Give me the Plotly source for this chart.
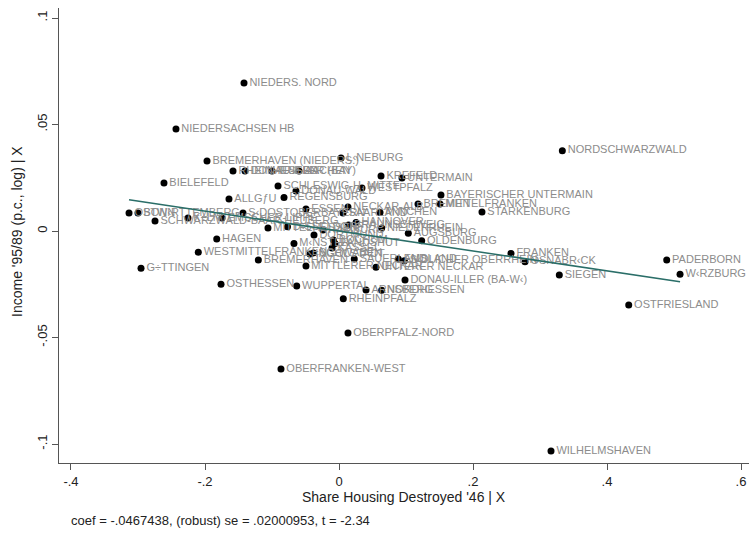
import plotly.graph_objects as go

names = ["NIEDERS. NORD", "NIEDERSACHSEN HB", "BREMERHAVEN (NIEDERS.)", "L‹NEBURG",
         "RHEINHESSEN", "DONAU-ILLER (BAY)", "TRIER", "AACHEN", "SCHLESWIG-H. MITTE",
         "DONAU-WALD", "BIELEFELD", "KREFELD", "UNTERMAIN", "WESTPFALZ", "ALLGƒU",
         "REGENSBURG", "BAYERISCHER UNTERMAIN", "BREMEN", "MITTELFRANKEN", "STARKENBURG",
         "ESSEN", "NECKAR-ALB", "SAARLAND", "M‹NCHEN", "OSTW‹RTTEMBERG", "BONN",
         "SCHWARZWALD-BAAR-HEUBERG", "K÷LN", "EMSCHER-LIPPE", "S‹DOSTOBERBAYERN",
         "MITTELHESSEN", "D‹SSELDORF", "DORTMUND", "HAMBURG", "BRAUNSCHWEIG", "HANNOVER",
         "NIEDERRHEIN", "AUGSBURG", "OLDENBURG", "M‹NSTER", "HAGEN", "BOCHUM", "LANDSHUT",
         "KASSEL", "WESTMITTELFRANKEN", "INGOLSTADT", "SCHWABEN", "SAUERLAND", "EMSLAND",
         "S‹DLICHER OBERRHEIN", "BREMERHAVEN", "MITTLERER NECKAR", "UNTERER NECKAR",
         "G÷TTINGEN", "FRANKEN", "OSNABR‹CK", "SIEGEN", "PADERBORN", "W‹RZBURG",
         "OSTFRIESLAND", "NORDSCHWARZWALD", "OSTHESSEN", "WUPPERTAL", "DONAU-ILLER (BA-W‹)",
         "ARNSBERG", "NORDHESSEN", "RHEINPFALZ", "OBERPFALZ-NORD", "OBERFRANKEN-WEST",
         "WILHELMSHAVEN"]

housing_resid = [-0.1418, -0.2433, -0.1970, 0.0030,
                 -0.1582, -0.1403, -0.1000, -0.0597, -0.0910,
                 -0.0642, -0.2612, 0.0627, 0.0940, 0.0343, -0.1642,
                 -0.0821, 0.1522, 0.1179, 0.1507, 0.2134,
                 -0.0493, 0.0134, 0.0060, 0.0612, -0.3134, -0.3000,
                 -0.2746, -0.2254, -0.1746, -0.1433,
                 -0.1060, -0.0769, -0.0373, -0.0239, 0.0142, 0.0254,
                 0.0637, 0.1034, 0.1234, -0.0672, -0.1825, -0.0085, -0.0060,
                 -0.0104, -0.2100, -0.0433, -0.0381, 0.0228, 0.0885,
                 0.0975, -0.1204, -0.0493, 0.0552,
                 -0.2955, 0.2567, 0.2776, 0.3288, 0.4891, 0.5090,
                 0.4324, 0.3333, -0.1761, -0.0631, 0.0985,
                 0.0403, 0.0637, 0.0064, 0.0134, -0.0866,
                 0.3164]

income_resid = [0.0695, 0.0479, 0.0329, 0.0343,
                0.0282, 0.0282, 0.0282, 0.0282, 0.0211,
                0.0188, 0.0225, 0.0258, 0.0249, 0.0202, 0.0150,
                0.0157, 0.0169, 0.0127, 0.0127, 0.0089,
                0.0103, 0.0113, 0.0085, 0.0087, 0.0085, 0.0085,
                0.0047, 0.0061, 0.0061, 0.0085,
                0.0014, 0.0020, -0.0019, 0.0005, 0.0028, 0.0040,
                0.0014, -0.0011, -0.0046, -0.0058, -0.0038, -0.0042, -0.0059,
                -0.0080, -0.0100, -0.0108, -0.0103, -0.0131, -0.0131,
                -0.0139, -0.0136, -0.0164, -0.0170,
                -0.0175, -0.0105, -0.0144, -0.0207, -0.0136, -0.0203,
                -0.0347, 0.0377, -0.0250, -0.0258, -0.0230,
                -0.0277, -0.0278, -0.0318, -0.0479, -0.0648,
                -0.1033]

coef = -0.0467438
x_ticks = [-0.4, -0.2, 0, 0.2, 0.4, 0.6]
x_tick_labels = ["-.4", "-.2", "0", ".2", ".4", ".6"]
y_ticks = [-0.1, -0.05, 0, 0.05, 0.1]
y_tick_labels = ["-.1", "-.05", "0", ".05", ".1"]

FONT = "Liberation Sans"

fig = go.Figure()
fig.add_trace(go.Scatter(
    x=housing_resid, y=income_resid, text=names,
    mode="markers+text", textposition="middle right",
    marker=dict(color="black", size=7),
    textfont=dict(family=FONT, size=11, color="#8c8c8c"),
    cliponaxis=False, showlegend=False, hoverinfo="skip"))

xmin, xmax = min(housing_resid), max(housing_resid)
fig.add_trace(go.Scatter(
    x=[xmin, xmax], y=[coef * xmin, coef * xmax], mode="lines",
    line=dict(color="#2a6e68", width=1.6), showlegend=False, hoverinfo="skip"))

fig.update_layout(
    width=749, height=536,
    margin=dict(l=59, r=0, t=8, b=73),
    paper_bgcolor="white", plot_bgcolor="white",
    font=dict(family=FONT, color="#222"),
    xaxis=dict(range=[-0.4179, 0.6119], tickvals=x_ticks, ticktext=x_tick_labels,
               showgrid=False, zeroline=False, showline=True, linecolor="#555",
               linewidth=1, ticks="outside", ticklen=6, tickcolor="#555",
               ticklabeloverflow="allow",
               tickfont=dict(size=13, color="#222")),
    yaxis=dict(range=[-0.1089, 0.1047], tickvals=y_ticks, ticktext=y_tick_labels,
               showgrid=False, zeroline=False, showline=True, linecolor="#555",
               linewidth=1, ticks="outside", ticklen=6, tickcolor="#555",
               ticklabeloverflow="allow",
               tickangle=-90, tickfont=dict(size=13, color="#222")),
    annotations=[
        dict(text="Income '95/89 (p.c., log) | X", xref="paper", yref="paper",
             x=-0.0609, y=0.51, textangle=-90, showarrow=False,
             font=dict(size=14, color="#222"), xanchor="center", yanchor="middle"),
        dict(text="Share Housing Destroyed '46 | X", xref="paper", yref="paper",
             x=0.5, y=-0.0747, showarrow=False,
             font=dict(size=14, color="#222"), xanchor="center", yanchor="middle"),
        dict(text="coef = -.0467438, (robust) se = .02000953, t = -2.34",
             xref="paper", yref="paper", x=0.0145, y=-0.1253, showarrow=False,
             font=dict(size=13, color="#222"), xanchor="left", yanchor="middle"),
    ],
)

fig.write_html("out.html",
               config={"displayModeBar": False},
               post_script="document.body.style.margin='0';document.body.style.overflow='hidden';")
